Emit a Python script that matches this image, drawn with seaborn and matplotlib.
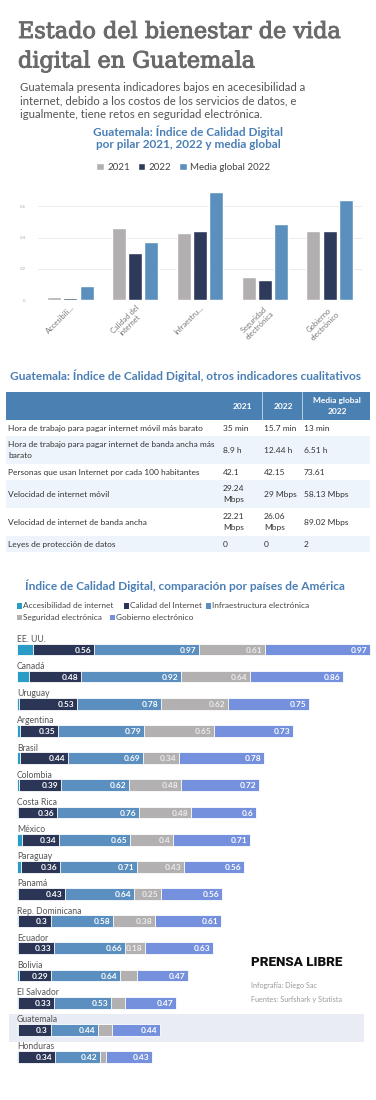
import numpy as np
import pandas as pd
import matplotlib
matplotlib.use("Agg")
import matplotlib.pyplot as plt
import matplotlib.patheffects as pe
import seaborn as sns
from matplotlib.patches import Rectangle

sns.set_theme(style="white")
SANS = ["Lato", "DejaVu Sans"]
plt.rcParams["font.family"] = SANS

# ---------------- DATA ----------------
pillars = ["Accesibili…", "Calidad del\ninternet", "Infraestru…",
           "Seguridad\nelectrónica", "Gobierno\nelectrónico"]
gt_2021 = [0.02, 0.46, 0.43, 0.15, 0.44]
gt_2022 = [0.01, 0.30, 0.44, 0.13, 0.44]
global_2022 = [0.09, 0.37, 0.69, 0.49, 0.64]
series_names = ["2021", "2022", "Media global 2022"]
y_ticks = [0, 0.2, 0.4, 0.6]
y_tick_labels = ["0", "0.2", "0.4", "0.6"]

table_header = ["2021", "2022", "Media global\n2022"]
table_labels = [
    "Hora de trabajo para pagar internet móvil más barato",
    "Hora de trabajo para pagar internet de banda ancha más\nbarato",
    "Personas que usan Internet por cada 100 habitantes",
    "Velocidad de internet móvil",
    "Velocidad de internet de banda ancha",
    "Leyes de protección de datos",
]
table_2021 = ["35 min", "8.9 h", "42.1", "29.24\nMbps", "22.21\nMbps", "0"]
table_2022 = ["15.7 min", "12.44 h", "42.15", "29 Mbps", "26.06\nMbps", "0"]
table_global = ["13 min", "6.51 h", "73.61", "58.13 Mbps", "89.02 Mbps", "2"]

countries = ["EE. UU.", "Canadá", "Uruguay", "Argentina", "Brasil", "Colombia",
             "Costa Rica", "México", "Paraguay", "Panamá", "Rep. Dominicana",
             "Ecuador", "Bolivia", "El Salvador", "Guatemala", "Honduras"]
accesibilidad = [0.15, 0.11, 0.02, 0.03, 0.03, 0.02, 0.01, 0.05, 0.04, 0.01, 0.01, 0.01, 0.02, 0.01, 0.01, 0.01]
calidad = [0.56, 0.48, 0.53, 0.35, 0.44, 0.39, 0.36, 0.34, 0.36, 0.43, 0.30, 0.33, 0.29, 0.33, 0.30, 0.34]
infraestructura = [0.97, 0.92, 0.78, 0.79, 0.69, 0.62, 0.76, 0.65, 0.71, 0.64, 0.58, 0.66, 0.64, 0.53, 0.44, 0.42]
seguridad = [0.61, 0.64, 0.62, 0.65, 0.34, 0.48, 0.48, 0.40, 0.43, 0.25, 0.38, 0.18, 0.16, 0.13, 0.13, 0.05]
gobierno = [0.97, 0.86, 0.75, 0.73, 0.78, 0.72, 0.60, 0.71, 0.56, 0.56, 0.61, 0.63, 0.47, 0.47, 0.44, 0.43]
pillar_names = ["Accesibilidad de internet", "Calidad del Internet",
                "Infraestructura electrónica", "Seguridad electrónica",
                "Gobierno electrónico"]

# ---------------- STYLE ----------------
C1 = {"2021": "#b3afb0", "2022": "#2d3a5c", "Media global 2022": "#5b90be"}
PCOL = ["#2a9dc6", "#2b3556", "#5a8fbf", "#b3b0b1", "#7590dd"]
BLUE_T = "#4a7fb5"
GRAY_T = "#6a6a6a"

W, H = 376, 1100
fig = plt.figure(figsize=(W / 100, H / 100), dpi=100)
fig.patch.set_facecolor("white")


def fx(x):
    return x / W


def fy(y):
    return 1 - y / H


# ---------------- HEADER ----------------
thick = [pe.withStroke(linewidth=0.7, foreground=GRAY_T)]
fig.text(fx(18), fy(38), "Estado del bienestar de vida", family=["DejaVu Serif"],
         fontsize=16.1, color=GRAY_T, va="baseline", ha="left", path_effects=thick)
fig.text(fx(18), fy(67.5), "digital en Guatemala", family=["DejaVu Serif"],
         fontsize=16.1, color=GRAY_T, va="baseline", ha="left", path_effects=thick)
sub = ["Guatemala presenta indicadores bajos en acecesibilidad a",
       "internet, debido a los costos de los servicios de datos, e",
       "igualmente, tiene retos en seguridad electrónica."]
for i, s in enumerate(sub):
    fig.text(fx(19.5), fy(87.3 + 13.4 * i), s, fontsize=8.2, color="#555555",
             va="center", ha="left")

# ---------------- CHART 1 ----------------
fig.text(fx(188), fy(131.5), "Guatemala: Índice de Calidad Digital", fontsize=8.5,
         weight="bold", color=BLUE_T, ha="center", va="center")
fig.text(fx(188), fy(145), "por pilar 2021, 2022 y media global", fontsize=8.5,
         weight="bold", color=BLUE_T, ha="center", va="center")

df1 = pd.DataFrame({
    "pilar": pillars * 3,
    "valor": gt_2021 + gt_2022 + global_2022,
    "serie": [series_names[0]] * 5 + [series_names[1]] * 5 + [series_names[2]] * 5,
})
ax1 = fig.add_axes([fx(38), fy(300), (362 - 38) / W, (300 - 187.7) / H])
sns.barplot(data=df1, x="pilar", y="valor", hue="serie", order=pillars,
            hue_order=series_names, palette=C1, saturation=1, width=0.75,
            gap=0.13, ax=ax1, err_kws={"linewidth": 0})
h, l = ax1.get_legend_handles_labels()
ax1.legend(h, l, loc="center", bbox_to_anchor=(fx(183), fy(167.5)),
           bbox_transform=fig.transFigure, ncol=3, frameon=False, fontsize=7.0,
           handlelength=0.8, handleheight=0.8, handletextpad=0.3,
           columnspacing=0.8, labelcolor="#444444")
ax1.set_ylim(0, 0.72)
ax1.set_yticks(y_ticks)
ax1.set_yticklabels(y_tick_labels, fontsize=3.2, color="#aaaaaa")
ax1.tick_params(axis="y", length=0, pad=9)
ax1.yaxis.grid(True, color="#ececec", lw=0.7)
ax1.set_axisbelow(True)
for sp in ax1.spines.values():
    sp.set_visible(False)
ax1.set_xticks(range(len(pillars)))
ax1.set_xticklabels(pillars, rotation=45, ha="right", rotation_mode="anchor",
                    fontsize=5.4, color="#777777", multialignment="center")
ax1.tick_params(axis="x", length=0, pad=3)
ax1.set_xlabel("")
ax1.set_ylabel("")
ax1.patch.set_alpha(0)

# ---------------- TABLE ----------------
fig.text(fx(186), fy(376), "Guatemala: Índice de Calidad Digital, otros indicadores cualitativos",
         fontsize=8.6, weight="bold", color=BLUE_T, ha="center", va="center")
axt = fig.add_axes([fx(6), fy(552), (370 - 6) / W, (552 - 392) / H])
axt.set_xlim(6, 370)
axt.set_ylim(552, 392)
axt.axis("off")
axt.add_patch(Rectangle((6, 392), 364, 28, color="#4b80b3", lw=0))
for xv in (262, 302):
    axt.plot([xv, xv], [392, 420], color="#ffffff", lw=0.6, alpha=0.7)
hx = [242, 283, 337]
for x, t in zip(hx, table_header):
    axt.text(x, 406, t, ha="center", va="center", color="white", fontsize=6.0,
             weight="bold", linespacing=1.6)
y0 = 420
for i, lab in enumerate(table_labels):
    nlines = max(s.count("\n") + 1 for s in (lab, table_2021[i], table_2022[i], table_global[i]))
    hgt = 16 if nlines == 1 else 28
    if i % 2 == 1:
        axt.add_patch(Rectangle((6, y0), 364, hgt, color="#edf4fb", lw=0))
    yc = y0 + hgt / 2
    for x, t in zip([8, 223, 264, 304], [lab, table_2021[i], table_2022[i], table_global[i]]):
        axt.text(x, yc, t, ha="left", va="center", fontsize=6.0, color="#333333",
                 linespacing=1.6)
    y0 += hgt

# ---------------- CHART 3 ----------------
fig.text(fx(185), fy(585.5), "Índice de Calidad Digital, comparación por países de América",
         fontsize=8.6, weight="bold", color=BLUE_T, ha="center", va="center")

leg_items = [(17, 606, 0), (124, 606, 1), (206, 606, 2), (17, 617.5, 3), (110, 617.5, 4)]
for x, y, k in leg_items:
    fig.patches.append(Rectangle((fx(x), fy(y + 2.7)), 5.4 / W, 5.4 / H,
                                 transform=fig.transFigure, color=PCOL[k], lw=0))
    fig.text(fx(x + 6.3), fy(y), pillar_names[k], fontsize=5.95, color="#444444",
             ha="left", va="center")

series3 = [accesibilidad, calidad, infraestructura, seguridad, gobierno]
cums = np.cumsum(np.array(series3, dtype=float), axis=0)
df3 = pd.DataFrame({"pais": countries})
for k in range(5):
    df3[f"c{k}"] = cums[k]

ax3 = fig.add_axes([fx(17), fy(1070.6), 354 / W, (1070.6 - 635.9) / H])
gi = countries.index("Guatemala")
ax3.add_patch(Rectangle((-0.074, gi - 0.59), 3.278, 1.02, color="#e9ebf5", lw=0,
                        zorder=0, clip_on=False))
for k in range(4, -1, -1):
    sns.barplot(data=df3, x=f"c{k}", y="pais", order=countries, orient="h",
                color=PCOL[k], saturation=1, width=0.43, edgecolor="white",
                linewidth=0.6, ax=ax3, err_kws={"linewidth": 0})
ax3.set_xlim(0, 354 / 108.3)
ax3.set_ylim(len(countries) - 0.5, -0.5)
ax3.axis("off")
for i, c in enumerate(countries):
    ax3.text(0, i - 0.37, c, ha="left", va="center", fontsize=6.2, color="#555555")
    for k in range(1, 5):
        v = series3[k][i]
        if v >= 0.175:
            col = "#ececec" if k == 3 else "white"
            ax3.text(cums[k][i] - 0.024, i + 0.02, f"{v:g}", ha="right", va="center",
                     fontsize=6.0, weight="bold", color=col)

# ---------------- FOOTER ----------------
fig.text(fx(251), fy(963), "PRENSA LIBRE", fontsize=9.6, family=["Roboto", "DejaVu Sans"],
         weight="black", color="#111111", ha="left", va="center")
fig.text(fx(251), fy(985.7), "Infografía: Diego Sac", fontsize=5.2, color="#9a9a9a",
         ha="left", va="center")
fig.text(fx(251), fy(999.7), "Fuentes: Surfshark y Statista", fontsize=5.2, color="#9a9a9a",
         ha="left", va="center")

fig.savefig("out.png", dpi=100, facecolor="white")
